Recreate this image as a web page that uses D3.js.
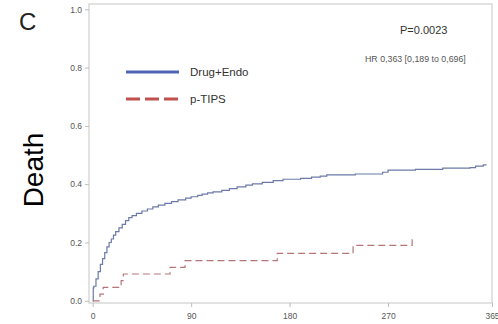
<!DOCTYPE html>
<html>
<head>
<meta charset="utf-8">
<script src="https://cdn.jsdelivr.net/npm/d3@7/dist/d3.min.js"></script>
<style>
  html, body { margin: 0; padding: 0; background: #fff; }
  svg { display: block; font-family: "Liberation Sans", Arial, sans-serif; }
</style>
</head>
<body>
<svg id="chart" width="498" height="324"></svg>
<script>
// Cumulative incidence of death, days since randomisation
const xTicks = [0, 90, 180, 270, 365];
const yTicks = [0, 0.2, 0.4, 0.6, 0.8, 1.0];

// Drug+Endo arm: [day, cumulative incidence] at each step
const drugEndo = [
  [0, 0], [0.5, 0.044], [1, 0.05], [3, 0.075], [5, 0.10], [7, 0.125], [9, 0.145],
  [11, 0.165], [13, 0.185], [15, 0.20], [17, 0.212], [19, 0.225], [21, 0.237],
  [24, 0.25], [27, 0.262], [30, 0.275], [33, 0.285], [36, 0.292], [40, 0.30],
  [45, 0.308], [50, 0.315], [55, 0.322], [60, 0.328], [66, 0.334], [72, 0.34],
  [78, 0.346], [85, 0.352], [90, 0.357], [96, 0.362], [100, 0.366], [105, 0.37],
  [110, 0.374], [118, 0.379], [125, 0.385], [132, 0.391], [140, 0.397], [146, 0.401],
  [155, 0.406], [165, 0.412], [174, 0.417], [190, 0.42], [200, 0.424], [208, 0.428],
  [214, 0.432], [240, 0.435], [265, 0.441], [270, 0.448], [295, 0.451], [320, 0.455],
  [345, 0.457], [350, 0.462], [357, 0.466], [360, 0.466]
];

// p-TIPS arm
const pTips = [
  [0, 0], [6.6, 0.023], [9.6, 0.046], [26, 0.069], [28, 0.092], [70.7, 0.115],
  [84.4, 0.138], [168.7, 0.163], [238, 0.19], [292, 0.19], [292, 0.215]
];

const seriesNames = ["Drug+Endo", "p-TIPS"];
const pText = "P=0.0023";
const hrText = "HR 0,363 [0,189 to 0,696]";

const svg = d3.select("#chart");

const frame = { left: 89, right: 492, top: 4, bottom: 303 };
const x = d3.scaleLinear().domain([0, 365]).range([92.7, 492]);
const y = d3.scaleLinear().domain([0, 1]).range([300.8, 9.3]);

// plot frame
svg.append("rect")
  .attr("x", frame.left).attr("y", frame.top)
  .attr("width", frame.right - frame.left).attr("height", frame.bottom - frame.top)
  .attr("fill", "none").attr("stroke", "#cfcfcf").attr("stroke-width", 1.2);

// axes
const yAxis = svg.append("g")
  .attr("transform", `translate(${frame.left},0)`)
  .call(d3.axisLeft(y).tickValues(yTicks).tickFormat(d3.format(".1f")).tickSize(4).tickPadding(3));
const xAxis = svg.append("g")
  .attr("transform", `translate(0,${frame.bottom})`)
  .call(d3.axisBottom(x).tickValues(xTicks).tickFormat(d3.format("d")).tickSize(4).tickPadding(6));
[yAxis, xAxis].forEach(g => {
  g.select(".domain").remove();
  g.selectAll(".tick line").attr("stroke", "#bdbdbd");
  g.selectAll(".tick text").attr("fill", "#555").style("font-size", "8.5px")
    .style("font-family", "'Liberation Sans', Arial, sans-serif");
});

// curves
const line = d3.line().x(d => x(d[0])).y(d => y(d[1])).curve(d3.curveStepAfter);
svg.append("path").datum(drugEndo).attr("d", line)
  .attr("fill", "none").attr("stroke", "#6b7aa6").attr("stroke-width", 1.2);
svg.append("path").datum(pTips).attr("d", line)
  .attr("fill", "none").attr("stroke", "#b5767a").attr("stroke-width", 1.2)
  .attr("stroke-dasharray", "7,4");

// legend
const legend = [
  { name: seriesNames[0], color: "#4f66b3", dash: null, yPos: 72 },
  { name: seriesNames[1], color: "#c0504d", dash: "14,5", yPos: 99 }
];
legend.forEach(l => {
  svg.append("line").attr("x1", 126).attr("x2", 179).attr("y1", l.yPos).attr("y2", l.yPos)
    .attr("stroke", l.color).attr("stroke-width", 3).attr("stroke-dasharray", l.dash);
  svg.append("text").attr("x", 190).attr("y", l.yPos).attr("dy", "0.35em")
    .attr("fill", "#333").style("font-size", "11.5px").text(l.name);
});

// statistics
svg.append("text").attr("x", 400).attr("y", 30).attr("dy", "0.35em")
  .attr("fill", "#333").style("font-size", "11px").text(pText);
svg.append("text").attr("x", 365).attr("y", 59).attr("dy", "0.35em")
  .attr("fill", "#555").style("font-size", "8.8px").text(hrText);

// panel letter and axis title
svg.append("text").attr("x", 19).attr("y", 30)
  .attr("fill", "#222").style("font-size", "24px").text("C");
svg.append("text").attr("transform", "translate(43,170) rotate(-90)")
  .attr("text-anchor", "middle").attr("fill", "#000").style("font-size", "28px").text("Death");
</script>
</body>
</html>
